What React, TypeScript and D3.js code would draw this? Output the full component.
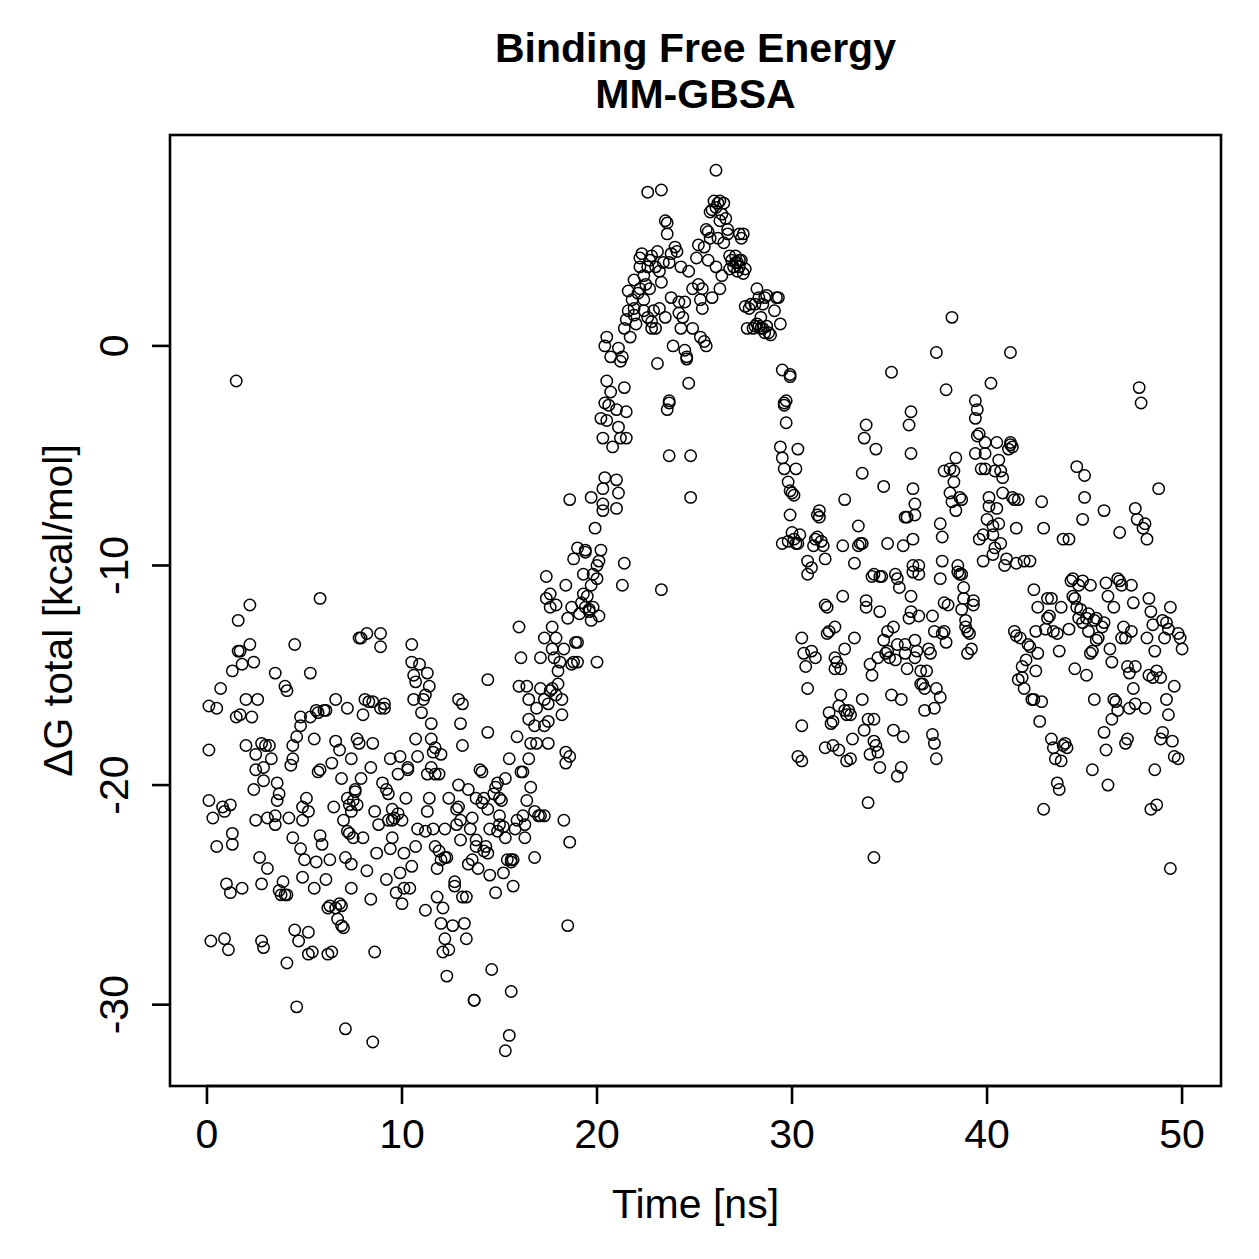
import React from "react";
import * as d3 from "d3";

// MM-GBSA binding free energy per frame: [time (ns), ΔG total (kcal/mol)]
const frames0to10: [number, number][] = [
  [0.1,-16.4],[0.5,-16.5],[0.1,-18.4],[0.1,-20.7],[0.3,-21.5],[0.5,-22.8],[0.2,-27.1],[0.7,-15.6],[0.8,-21.0],[0.9,-21.2],[0.9,-27.0],[1.0,-24.5],[1.1,-27.5],
  [1.2,-20.9],[1.2,-24.9],[1.3,-22.7],[1.5,-16.9],[1.7,-16.8],[1.5,-1.6],[1.6,-13.9],[1.7,-13.9],[1.6,-12.5],[1.3,-14.8],[1.8,-14.5],[2.0,-16.1],[1.8,-24.7],[1.3,-22.2],
  [2.2,-13.6],[2.2,-11.8],[2.0,-18.2],[2.3,-16.9],[2.4,-14.4],[2.6,-16.1],[2.5,-18.6],[2.5,-19.3],[2.9,-19.2],[2.8,-18.1],[2.7,-23.3],[2.8,-24.5],[2.9,-27.4],[2.8,-27.1],[2.5,-21.6],[2.4,-20.2],
  [3.0,-18.2],[3.2,-18.2],[2.9,-19.8],[3.1,-21.5],[3.5,-21.8],[3.5,-21.4],[3.1,-23.8],[3.5,-14.9],[3.7,-24.8],[3.8,-25.0],[4.0,-25.0],[3.9,-24.4],[3.6,-19.9],[3.7,-20.4],[3.3,-18.8],[3.6,-20.7],
  [4.0,-15.5],[4.1,-15.7],[4.1,-25.0],[4.3,-19.1],[4.4,-18.8],[4.4,-18.2],[4.5,-13.6],[4.6,-17.8],[4.8,-17.3],[4.8,-16.9],[4.5,-26.6],[4.6,-30.1],[4.1,-28.1],[4.7,-27.1],[4.9,-21.0],[4.8,-22.9],[4.4,-22.4],[4.2,-21.5],
  [4.9,-24.2],[4.9,-21.6],[5.1,-20.6],[5.2,-21.2],[5.0,-23.4],[5.2,-26.7],[5.4,-27.6],[5.2,-27.7],[5.3,-16.9],[5.3,-14.9],[5.6,-16.6],[5.7,-19.4],[5.8,-19.3],[5.8,-22.3],[5.9,-22.7],[5.5,-24.7],[5.6,-23.5],[5.7,-16.7],[5.8,-11.5],[5.5,-17.9],
  [6.0,-16.6],[6.1,-16.6],[6.3,-23.4],[6.3,-25.5],[6.4,-27.6],[6.2,-27.7],[6.4,-19.0],[6.6,-16.1],[6.6,-18.0],[6.8,-18.4],[6.9,-19.7],[6.6,-25.6],[6.7,-26.1],[6.8,-25.4],[6.9,-26.4],[6.2,-25.6],[6.1,-24.3],[6.5,-21.0],
  [6.9,-25.5],[7.0,-26.5],[7.1,-31.1],[7.0,-21.6],[7.2,-22.1],[7.2,-20.6],[7.3,-22.2],[7.3,-20.9],[7.4,-21.2],[7.4,-24.7],[7.4,-23.6],[7.5,-22.4],[7.6,-20.3],[7.5,-20.7],[7.7,-20.9],[7.7,-17.9],[7.6,-20.2],[7.8,-13.3],[7.9,-19.7],[7.8,-18.1],[7.2,-16.5],[7.4,-18.8],[7.1,-23.3],
  [7.9,-13.3],[8.2,-13.1],[8.0,-16.8],[8.1,-16.1],[8.3,-16.2],[8.5,-18.1],[8.4,-19.2],[8.5,-16.2],[8.5,-31.7],[8.6,-27.6],[8.7,-23.1],[8.6,-21.2],[8.8,-21.8],[8.9,-13.1],[8.9,-13.7],[9.0,-19.9],[8.9,-16.5],[8.2,-23.9],[8.0,-22.4],[8.4,-25.2],
  [9.1,-16.3],[9.1,-16.5],[9.2,-20.2],[9.3,-20.4],[9.3,-21.6],[9.5,-21.1],[9.4,-22.9],[9.5,-21.6],[9.6,-21.5],[9.7,-24.9],[9.9,-24.0],[10.0,-21.6],[9.8,-21.3],[10.0,-25.4],[9.9,-18.7],[9.2,-24.3],[9.5,-22.4],[9.8,-19.5],[9.4,-18.8],
];

const frames10to20: [number, number][] = [
  [10.1,-24.7],[10.1,-23.1],[10.3,-19.3],[10.3,-19.2],[10.4,-24.7],[10.5,-14.4],[10.5,-13.6],[10.5,-23.7],[10.6,-15.0],[10.6,-16.1],[10.7,-15.3],[10.9,-14.5],[10.7,-17.9],[10.8,-18.7],[11.0,-16.7],[10.2,-20.6],[10.8,-22.0],[10.7,-22.8],
  [11.1,-16.1],[11.2,-15.9],[11.2,-22.1],[11.3,-19.5],[11.4,-20.6],[11.5,-19.2],[11.6,-18.5],[11.2,-25.7],[11.3,-14.9],[11.4,-15.5],[11.5,-17.9],[11.5,-17.2],[11.7,-18.3],[11.7,-19.5],[11.9,-19.5],[12.0,-18.6],[11.7,-22.8],[11.8,-25.1],[11.8,-23.8],[11.3,-21.2],[11.6,-22.0],
  [11.9,-23.0],[12.0,-23.4],[12.0,-26.3],[12.1,-25.6],[12.1,-27.6],[12.2,-23.3],[12.3,-23.3],[12.2,-27.0],[12.3,-28.7],[12.4,-27.5],[12.6,-26.4],[12.7,-24.6],[12.7,-24.4],[12.8,-21.1],[12.8,-21.8],[12.9,-21.0],[12.9,-20.0],[13.0,-21.6],[13.0,-22.5],[12.9,-16.1],[12.4,-20.6],[12.2,-22.0],
  [13.1,-16.3],[13.0,-17.2],[13.1,-18.2],[13.1,-25.1],[13.2,-26.3],[13.3,-27.0],[13.3,-25.1],[13.4,-23.6],[13.6,-23.4],[13.7,-29.8],[13.7,-29.8],[13.6,-21.5],[13.8,-20.6],[13.8,-22.5],[13.8,-22.8],[14.0,-19.3],[13.4,-20.2],[13.5,-22.0],[13.9,-23.8],
  [14.1,-19.4],[14.1,-20.8],[14.2,-20.6],[14.2,-23.0],[14.3,-22.8],[14.4,-23.1],[14.4,-15.2],[14.4,-17.6],[14.4,-21.1],[14.5,-24.1],[14.6,-28.4],[14.7,-20.4],[14.8,-20.1],[14.9,-19.9],[14.9,-22.1],[15.0,-21.8],[14.5,-22.0],[14.8,-24.9],
  [15.0,-20.6],[15.0,-21.4],[15.1,-20.7],[15.2,-21.9],[15.3,-32.1],[15.2,-24.0],[15.4,-23.4],[15.6,-23.4],[15.6,-29.4],[15.5,-31.4],[15.6,-23.5],[15.7,-23.4],[15.8,-22.0],[15.9,-21.6],[15.9,-17.8],[16.0,-15.5],[15.3,-19.7],[15.5,-18.8],[15.3,-22.4],[15.7,-24.6],
  [16.0,-12.8],[16.1,-14.2],[16.1,-19.4],[16.2,-21.4],[16.2,-19.4],[16.3,-21.8],[16.4,-20.7],[16.4,-15.5],[16.5,-18.8],[16.5,-17.0],[16.6,-20.1],[16.6,-18.1],[16.8,-21.2],[16.8,-23.3],[16.8,-17.3],[16.9,-18.1],[16.9,-16.5],[17.0,-21.4],[16.3,-22.4],[16.5,-16.1],
  [17.1,-21.4],[17.1,-15.6],[17.1,-14.2],[17.3,-21.4],[17.3,-16.1],[17.3,-17.3],[17.5,-17.1],[17.5,-18.1],[17.5,-16.3],[17.6,-15.7],[17.7,-15.6],[17.7,-13.8],[17.8,-14.2],[17.9,-13.3],[17.9,-15.9],[17.4,-10.5],[17.6,-11.9],[17.7,-12.8],[17.3,-13.3],[17.4,-11.5],[17.6,-11.3],
  [18.0,-15.4],[17.9,-11.8],[18.0,-14.8],[18.1,-14.4],[18.2,-16.8],[18.2,-16.1],[18.3,-21.6],[18.4,-18.5],[18.4,-19.0],[18.5,-26.4],[18.6,-22.6],[18.6,-7.0],[18.6,-18.7],[18.7,-14.5],[18.8,-14.4],[18.9,-13.5],[19.0,-14.4],[18.3,-13.8],[18.5,-12.4],[18.8,-9.7],[18.4,-10.9],[19.0,-9.2],[18.7,-11.9],
  [19.0,-13.5],[19.1,-12.2],[19.2,-11.7],[19.3,-11.3],[19.3,-10.4],[19.4,-9.4],[19.4,-9.3],[19.5,-11.4],[19.6,-12.0],[19.6,-12.1],[19.7,-12.5],[19.8,-10.4],[19.8,-11.9],[19.9,-8.3],[20.0,-10.6],[20.0,-14.4],[20.0,-10.0],[20.1,-9.8],[19.7,-6.9],[19.4,-11.9],[19.7,-10.9],
];

const frames20to30: [number, number][] = [
  [20.1,-12.3],[20.2,-9.3],[20.3,-7.2],[20.3,-7.5],[20.3,-6.5],[20.4,-2.6],[20.4,-6.0],[20.5,-1.6],[20.5,-3.4],[20.6,-2.7],[20.7,-2.1],[20.8,-4.6],[21.0,-2.9],[21.0,-7.4],[21.0,-6.1],[21.1,-6.7],[21.1,-3.7],[20.3,-4.2],[20.2,-3.3],[20.5,0.4],[20.4,0.0],[20.7,-0.5],[21.2,-4.2],
  [21.2,-0.7],[21.3,-0.5],[21.3,-10.9],[21.4,-9.9],[21.4,-1.9],[21.5,-3.0],[21.5,-4.2],[21.5,1.2],[21.6,1.6],[21.6,2.5],[21.8,2.1],[21.9,3.0],[21.9,1.4],[21.9,1.7],[22.0,1.0],[22.1,2.4],[22.2,2.6],[22.2,4.0],[21.4,0.8],[21.7,0.4],[21.1,-0.1],
  [22.2,3.6],[22.3,4.2],[22.4,3.2],[22.4,2.1],[22.4,1.6],[22.6,3.6],[22.7,3.9],[22.8,4.1],[22.8,1.1],[22.9,1.6],[23.0,0.8],[23.0,3.6],[23.1,4.3],[22.6,7.0],[22.5,2.8],[22.7,2.6],[22.8,0.8],[22.6,1.3],
  [23.1,-0.8],[23.2,3.4],[23.3,2.9],[23.3,7.1],[23.5,1.3],[23.5,5.7],[23.6,5.6],[23.6,5.1],[23.7,-2.6],[23.7,-2.5],[23.7,-5.0],[23.8,4.2],[23.8,2.2],[23.9,0.0],[23.3,-11.1],[23.4,3.8],[23.7,3.8],[23.6,-2.9],[23.2,1.7],
  [24.0,4.5],[24.1,4.3],[24.2,1.5],[24.3,3.6],[24.3,0.8],[24.4,1.3],[24.5,2.0],[24.5,-0.2],[24.6,-0.5],[24.7,-1.7],[24.7,3.4],[24.8,-5.0],[24.8,-6.9],[24.9,0.8],[24.9,2.6],[24.2,2.0],[24.6,-0.6],
  [25.1,4.0],[25.2,4.6],[25.3,2.1],[25.4,2.6],[25.5,0.2],[25.6,0.0],[25.7,3.9],[25.7,5.2],[25.8,6.1],[25.9,6.2],[25.3,0.4],[25.4,1.7],[25.5,4.5],[25.6,5.3],[25.2,2.8],[25.8,4.9],
  [26.0,6.6],[26.1,6.3],[26.1,8.0],[26.2,4.9],[26.2,6.5],[26.3,6.6],[26.3,5.7],[26.4,6.0],[26.5,4.7],[26.6,5.8],[26.7,5.1],[26.7,5.3],[26.8,3.5],[26.9,3.9],[26.1,3.6],[26.3,2.6],[26.4,3.2],[26.5,6.5],[25.9,2.2],
  [27.0,3.6],[27.2,3.8],[27.3,5.1],[27.4,4.9],[27.5,5.1],[27.6,3.5],[27.6,1.8],[27.7,0.8],[27.8,1.7],[27.9,1.9],[27.1,4.1],[27.2,3.4],[27.3,3.6],[27.4,3.9],[27.5,3.3],[26.8,4.1],[27.1,3.8],[27.3,3.9],
  [28.0,0.8],[28.1,0.9],[28.2,1.0],[28.3,2.2],[28.4,0.8],[28.5,1.9],[28.6,2.2],[28.7,2.3],[28.8,0.6],[28.9,0.5],[28.2,2.6],[28.4,1.3],[28.6,0.6],[28.1,1.9],[28.3,0.9],[28.5,0.8],[28.7,0.9],
  [29.1,1.6],[29.2,2.2],[29.3,2.2],[29.5,-1.1],[29.6,-2.6],[29.6,-2.7],[29.7,-2.5],[29.9,-1.3],[29.9,-1.4],[29.4,-4.6],[29.5,-5.1],[29.6,-5.6],[29.8,-6.2],[29.9,-6.6],[29.5,-9.0],[29.8,-8.9],[29.4,1.0],[29.7,-3.5],
];

const frames30to40: [number, number][] = [
  [30.0,-6.7],[30.1,-6.8],[30.2,-5.6],[30.3,-4.7],[29.9,-7.7],[30.0,-8.5],[30.1,-8.8],[30.2,-9.0],[30.3,-9.0],[30.3,-18.7],[30.5,-18.9],[30.5,-13.3],[30.6,-14.0],[30.7,-14.6],[30.8,-9.8],[30.8,-10.4],[30.8,-15.6],[30.5,-17.3],[30.4,-8.6],
  [31.0,-10.1],[31.1,-9.1],[31.2,-8.8],[31.3,-8.7],[31.3,-7.7],[31.4,-7.8],[31.4,-7.5],[31.5,-8.9],[31.6,-9.1],[31.7,-9.7],[31.7,-11.8],[31.8,-13.1],[31.8,-11.9],[31.9,-13.0],[31.9,-16.7],[31.7,-18.3],[31.0,-13.9],[31.2,-14.2],
  [32.0,-17.2],[32.1,-18.2],[32.1,-17.1],[32.2,-14.7],[32.2,-14.2],[32.3,-14.4],[32.4,-18.4],[32.4,-16.4],[32.5,-15.9],[32.5,-14.7],[32.6,-11.4],[32.7,-13.8],[32.7,-16.6],[32.8,-16.8],[32.9,-16.6],[32.6,-9.1],[32.2,-12.8],[32.8,-18.9],[32.7,-7.0],
  [33.0,-16.8],[33.0,-18.8],[33.1,-17.9],[33.2,-9.9],[33.4,-8.2],[33.4,-9.1],[33.5,-9.0],[33.6,-9.0],[33.6,-16.1],[33.7,-17.5],[33.8,-11.6],[33.8,-11.9],[33.9,-17.0],[34.0,-18.6],[34.0,-14.5],[33.7,-4.2],[33.8,-3.6],[33.6,-5.8],[33.9,-20.8],[33.2,-13.3],
  [34.1,-15.0],[34.2,-17.0],[34.2,-18.0],[34.3,-18.2],[34.4,-18.5],[34.2,-23.3],[34.3,-4.7],[34.1,-10.5],[34.2,-10.4],[34.5,-10.5],[34.6,-10.5],[34.7,-13.4],[34.8,-14.0],[34.9,-13.0],[34.9,-13.9],[34.4,-14.2],[34.5,-12.1],[34.7,-6.4],[34.9,-9.0],[34.5,-19.2],
  [35.0,-14.2],[35.1,-15.9],[35.2,-17.5],[35.2,-12.8],[35.3,-14.3],[35.4,-13.6],[35.5,-11.0],[35.6,-19.2],[35.6,-16.1],[35.7,-17.8],[35.8,-14.0],[35.8,-13.6],[35.9,-14.7],[35.1,-1.2],[35.3,-10.4],[35.4,-10.6],[35.4,-19.6],[35.7,-9.1],[35.8,-7.8],[35.9,-7.8],
  [36.0,-12.4],[36.1,-12.1],[36.1,-11.4],[36.2,-8.8],[36.2,-10.0],[36.2,-10.3],[36.3,-7.2],[36.3,-14.2],[36.4,-13.9],[36.5,-10.4],[36.5,-10.0],[36.6,-14.8],[36.6,-15.4],[36.7,-15.4],[36.8,-15.6],[36.8,-16.6],[36.9,-14.8],[36.1,-3.0],[36.0,-3.6],[36.1,-4.9],[36.3,-7.7],[36.2,-6.5],[36.5,-12.3],[36.3,-13.4],
  [37.0,-13.8],[37.1,-14.0],[37.2,-17.7],[37.2,-12.3],[37.3,-13.0],[37.3,-18.1],[37.4,-15.6],[37.6,-10.6],[37.6,-16.0],[37.6,-8.1],[37.7,-9.8],[37.7,-8.7],[37.8,-13.0],[37.8,-11.7],[37.9,-13.5],[37.4,-0.3],[37.9,-2.0],[37.3,-16.5],[37.4,-18.8],[37.7,-13.1],[37.8,-5.7],
  [38.0,-11.8],[38.1,-5.6],[38.1,-6.7],[38.2,-7.1],[38.3,-6.2],[38.3,-5.7],[38.4,-7.5],[38.5,-10.3],[38.6,-10.4],[38.7,-10.4],[38.8,-11.0],[38.8,-11.5],[38.9,-12.5],[38.2,1.3],[38.4,-5.1],[38.5,-10.0],[38.6,-6.9],[38.7,-7.0],[39.0,-14.0],[38.9,-12.8],[38.7,-12.0],
  [39.0,-13.0],[39.1,-13.1],[39.2,-13.8],[39.3,-11.8],[39.3,-11.6],[39.4,-3.3],[39.4,-2.5],[39.5,-2.9],[39.5,-4.1],[39.6,-4.0],[39.7,-5.6],[39.8,-9.8],[39.9,-5.6],[39.9,-4.9],[40.0,-7.9],[40.1,-6.9],[39.6,-8.8],[39.8,-8.6],[39.9,-4.4],[39.4,-4.9],
];

const frames40to50: [number, number][] = [
  [40.1,-7.3],[40.2,-1.7],[40.3,-8.2],[40.3,-8.6],[40.4,-5.7],[40.5,-4.4],[40.6,-5.2],[40.7,-5.7],[40.8,-6.7],[40.9,-10.0],[41.0,-9.7],[40.4,-9.2],[40.3,-9.5],[40.5,-7.4],[40.6,-8.1],[40.8,-6.0],[40.7,-9.0],
  [41.1,-4.7],[41.2,-4.5],[41.2,-4.4],[41.3,-6.9],[41.4,-7.0],[41.5,-8.3],[41.6,-7.0],[41.5,-9.9],[41.4,-13.0],[41.5,-13.2],[41.6,-15.2],[41.7,-13.3],[41.2,-0.3],[41.3,-4.6],[41.9,-9.8],[41.8,-14.6],[42.0,-14.3],
  [41.8,-15.1],[41.9,-15.6],[42.1,-13.6],[42.2,-13.7],[42.3,-16.1],[42.4,-16.1],[42.5,-14.8],[42.6,-14.0],[42.7,-17.1],[42.8,-16.2],[42.9,-21.1],[42.2,-9.8],[42.4,-11.1],[42.5,-13.0],[42.8,-7.1],[42.9,-8.3],[42.6,-11.9],
  [43.0,-12.9],[43.1,-12.4],[43.2,-12.3],[43.3,-17.9],[43.4,-18.3],[43.5,-18.8],[43.6,-19.9],[43.7,-20.2],[43.8,-18.9],[43.9,-18.2],[43.1,-11.5],[43.3,-11.5],[43.4,-13.0],[43.7,-13.9],[43.9,-8.8],[43.6,-13.1],[43.8,-11.9],
  [44.0,-18.1],[44.1,-18.3],[44.2,-8.8],[44.3,-10.7],[44.4,-11.4],[44.5,-11.5],[44.6,-11.9],[44.7,-12.4],[44.8,-12.0],[44.9,-12.6],[44.6,-5.5],[45.0,-5.9],[44.5,-14.7],[44.4,-10.6],[44.7,-10.9],[44.9,-10.7],[44.2,-12.9],
  [44.9,-7.9],[45.0,-6.9],[45.1,-12.4],[45.2,-13.0],[45.3,-14.0],[45.4,-13.9],[45.5,-12.5],[45.6,-13.4],[45.7,-13.3],[45.9,-12.8],[45.5,-16.1],[45.4,-19.3],[45.3,-10.9],[45.2,-12.2],[45.6,-12.4],[46.0,-7.5],[46.0,-17.6],[45.1,-15.0],
  [46.0,-12.6],[46.1,-10.8],[46.2,-11.4],[46.3,-13.8],[46.4,-14.4],[46.5,-16.1],[46.6,-16.2],[46.7,-16.6],[46.2,-20.0],[46.1,-18.4],[46.4,-17.0],[46.7,-10.6],[46.5,-11.9],[46.8,-8.5],[46.9,-13.3],
  [46.8,-10.7],[46.9,-10.9],[47.0,-12.8],[47.1,-13.3],[47.2,-14.6],[47.3,-14.9],[47.4,-13.0],[47.5,-11.7],[47.6,-14.6],[47.6,-7.4],[47.7,-7.9],[47.1,-18.1],[47.3,-16.5],[47.4,-10.9],[47.5,-15.6],[47.2,-17.9],[47.6,-16.3],
  [47.8,-1.9],[47.9,-2.6],[48.0,-8.3],[48.1,-8.1],[48.2,-8.8],[48.3,-11.5],[48.4,-12.1],[48.5,-12.7],[48.6,-13.9],[48.7,-14.8],[48.4,-21.1],[48.6,-19.3],[48.5,-15.1],[48.3,-15.0],[48.7,-20.9],[48.1,-16.5],[48.2,-13.3],
  [48.8,-6.5],[48.9,-15.1],[49.0,-12.5],[49.1,-13.3],[49.2,-16.1],[49.3,-16.8],[49.4,-23.8],[49.5,-18.0],[49.6,-18.7],[49.8,-18.8],[49.8,-13.1],[49.9,-13.3],[50.0,-13.8],[48.9,-17.9],[49.2,-12.6],[49.4,-11.9],[49.6,-15.5],[49.0,-17.6],[49.3,-12.9],
];

const xTicks = [0, 10, 20, 30, 40, 50];
const yTicks = [0, -10, -20, -30];
const titleLines = ["Binding Free Energy", "MM-GBSA"];
const xLabel = "Time [ns]";
const yLabel = "ΔG total [kcal/mol]";

const W = 1259;
const H = 1259;
const box = { left: 170, right: 1221, top: 135, bottom: 1086 };
const font = "'Liberation Sans', Arial, Helvetica, sans-serif";
const fs = 41;
const tickLen = 18;

// R-style axis range: data extent padded by 4% on each side
const padded = (ext: [number, number]) => {
  const p = (ext[1] - ext[0]) * 0.04;
  return [ext[0] - p, ext[1] + p];
};

export default function App() {
  const frames = [...frames0to10, ...frames10to20, ...frames20to30, ...frames30to40, ...frames40to50];
  const x = d3.scaleLinear()
    .domain(padded(d3.extent(frames, d => d[0]) as [number, number]))
    .range([box.left, box.right]);
  const y = d3.scaleLinear()
    .domain(padded(d3.extent(frames, d => d[1]) as [number, number]))
    .range([box.bottom, box.top]);
  const cx = (box.left + box.right) / 2;
  const cy = (box.top + box.bottom) / 2;

  return (
    <svg width={W} height={H} style={{ position: "absolute", left: 0, top: 0, background: "#fff" }}
      fontFamily={font}>
      <rect x={0} y={0} width={W} height={H} fill="#fff" />

      {titleLines.map((t, i) => (
        <text key={t} x={cx} y={62 + i * 46} textAnchor="middle" fontSize={fs} fontWeight="bold">{t}</text>
      ))}

      {frames.map((d, i) => (
        <circle key={i} cx={x(d[0])} cy={y(d[1])} r={5.7} fill="none" stroke="#000" strokeWidth={1.5} />
      ))}

      <rect x={box.left} y={box.top} width={box.right - box.left} height={box.bottom - box.top}
        fill="none" stroke="#000" strokeWidth={2.6} />

      {/* x axis */}
      <line x1={x(xTicks[0])} x2={x(xTicks[xTicks.length - 1])} y1={box.bottom} y2={box.bottom} stroke="#000" strokeWidth={2.6} />
      {xTicks.map(t => (
        <g key={t} transform={`translate(${x(t)},${box.bottom})`}>
          <line y2={tickLen} stroke="#000" strokeWidth={2.6} />
          <text y={62} textAnchor="middle" fontSize={fs}>{t}</text>
        </g>
      ))}
      <text x={cx} y={1218} textAnchor="middle" fontSize={fs}>{xLabel}</text>

      {/* y axis */}
      {yTicks.map(t => (
        <g key={t} transform={`translate(${box.left},${y(t)})`}>
          <line x2={-tickLen} stroke="#000" strokeWidth={2.6} />
          <text transform="translate(-42,0) rotate(-90)" textAnchor="middle" fontSize={fs}>{t}</text>
        </g>
      ))}
      <text transform={`translate(72,${cy}) rotate(-90)`} textAnchor="middle" fontSize={fs}>{yLabel}</text>
    </svg>
  );
}
